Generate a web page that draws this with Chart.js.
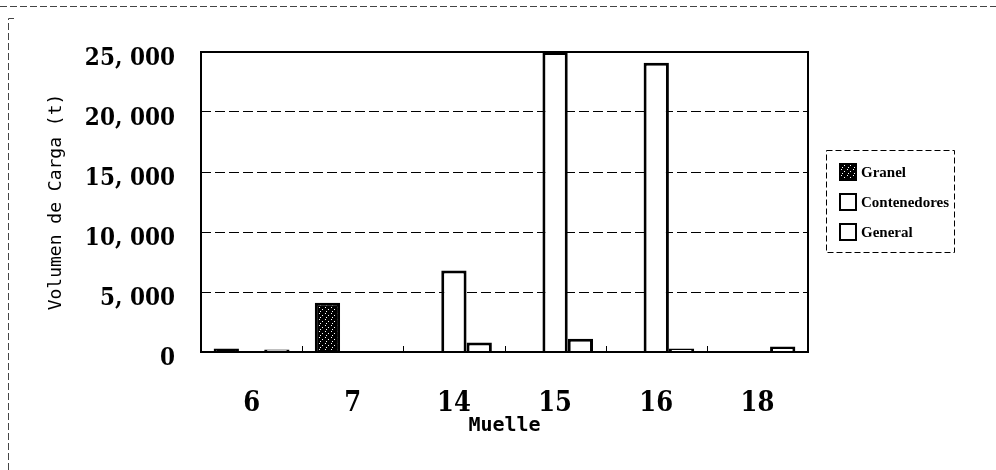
<!DOCTYPE html>
<html>
<head>
<meta charset="utf-8">
<script src="https://cdn.jsdelivr.net/npm/chart.js@4.4.0/dist/chart.umd.min.js"></script>
<style>
  html, body { margin: 0; background: #fff; }
</style>
</head>
<body>
<canvas id="chart" width="996" height="470"></canvas>
<script>
const muelles = ['6', '7', '14', '15', '16', '18'];
const granel = [300, 4100, 0, 0, 0, 0];
const contenedores = [0, 0, 6800, 25000, 24100, 0];
const general = [200, 0, 800, 1100, 300, 450];
const yTicks = [0, 5000, 10000, 15000, 20000, 25000];
const yTickLabels = ['0', '5, 000', '10, 000', '15, 000', '20, 000', '25, 000'];

const canvas = document.getElementById('chart');
const ctx = canvas.getContext('2d');

// dark dithered fill like the scanned "Granel" bar
const tile = document.createElement('canvas');
tile.width = tile.height = 6;
const t = tile.getContext('2d');
t.fillStyle = '#000'; t.fillRect(0, 0, 6, 6);
t.fillStyle = '#fff'; t.fillRect(1, 1, 1, 1); t.fillRect(4, 3, 1, 1); t.fillRect(2, 5, 1, 1);
const speckle = ctx.createPattern(tile, 'repeat');

const serif = '"DejaVu Serif Condensed", "DejaVu Serif", serif';
const mono = '"DejaVu Sans Mono", "Liberation Mono", monospace';

const frame = {
  id: 'frame',
  afterDraw(chart) {
    const c = chart.ctx, a = chart.chartArea, x = chart.scales.x;
    c.save();
    // plot border
    c.strokeStyle = '#000'; c.lineWidth = 2; c.setLineDash([]);
    c.strokeRect(a.left, a.top, a.right - a.left, a.bottom - a.top);
    // little category ticks on the baseline
    c.lineWidth = 1;
    const step = (a.right - a.left) / muelles.length;
    for (let i = 1; i < muelles.length; i++) {
      const px = Math.round(x.getPixelForValue(i) - step / 2) + 0.5;
      c.beginPath(); c.moveTo(px, a.bottom); c.lineTo(px, a.bottom - 6); c.stroke();
    }
    // scanned page outline
    c.strokeStyle = '#444'; c.setLineDash([7, 3]);
    c.beginPath(); c.moveTo(0, 6.5); c.lineTo(996, 6.5); c.stroke();
    c.beginPath(); c.moveTo(14, 18.5); c.lineTo(8.5, 18.5); c.lineTo(8.5, 470); c.stroke();

    // legend
    c.strokeStyle = '#000'; c.setLineDash([6, 3]); c.lineWidth = 1;
    c.strokeRect(826.5, 150.5, 128, 102);
    c.setLineDash([]);
    c.font = 'bold 15px "Liberation Serif", serif';
    c.textBaseline = 'middle';
    chart.data.datasets.forEach((ds, i) => {
      const cy = 172 + i * 30;
      c.fillStyle = ds.backgroundColor;
      c.fillRect(840, cy - 8, 16, 16);
      c.lineWidth = 2; c.strokeStyle = '#000';
      c.strokeRect(840, cy - 8, 16, 16);
      c.fillStyle = '#000';
      c.fillText(ds.label, 861, cy + 1);
    });
    c.restore();
  }
};

new Chart(ctx, {
  type: 'bar',
  data: {
    labels: muelles,
    datasets: [
      { label: 'Granel', data: granel, backgroundColor: speckle },
      { label: 'Contenedores', data: contenedores, backgroundColor: '#fff' },
      { label: 'General', data: general, backgroundColor: '#fff' }
    ]
  },
  options: {
    responsive: false,
    animation: false,
    devicePixelRatio: 1,
    layout: { padding: { left: 40, top: 52, right: 188, bottom: 34 } },
    datasets: {
      bar: { borderColor: '#000', borderWidth: 3, barPercentage: 1, categoryPercentage: 0.75 }
    },
    plugins: { legend: { display: false }, tooltip: { enabled: false } },
    scales: {
      x: {
        grid: { display: false },
        border: { display: false },
        ticks: { color: '#000', padding: 30, font: { family: serif, weight: 'bold', size: 27, lineHeight: 1 } },
        title: {
          display: true, text: 'Muelle', color: '#000',
          font: { family: mono, weight: 'bold', size: 20, lineHeight: 1 },
          padding: { top: 0, bottom: 0 }
        },
        afterFit: ax => { ax.height = 84; }
      },
      y: {
        min: 0, max: 25000,
        afterBuildTicks: ax => { ax.ticks = yTicks.map(v => ({ value: v })); },
        grid: { color: '#000', lineWidth: 1, drawTicks: false },
        border: { display: false, dash: [10, 4] },
        ticks: {
          color: '#000', padding: 26, labelOffset: 7,
          font: { family: serif, weight: 'bold', size: 24, lineHeight: 1 },
          callback: (v, i) => yTickLabels[i]
        },
        title: {
          display: true, text: 'Volumen de Carga (t)', color: '#000',
          font: { family: mono, size: 18, lineHeight: 1 },
          padding: { top: 7, bottom: 0 }
        },
        afterFit: ax => { ax.width = 161; }
      }
    }
  },
  plugins: [frame]
});
</script>
</body>
</html>
